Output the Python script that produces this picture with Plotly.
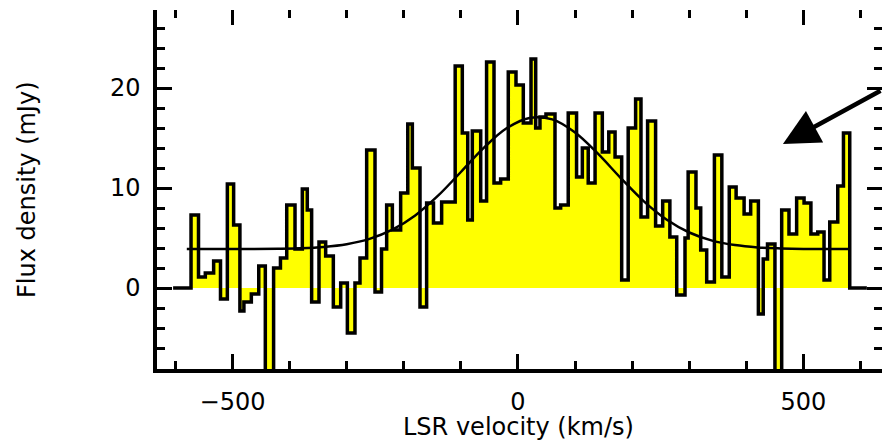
import plotly.graph_objects as go

# Channel left edges (LSR velocity, km/s) and flux density (mJy)
edge_v = [-604, -572.6, -559.5, -547.6, -533, -521, -509, -498, -487, -480, -467, -454,
          -442.5, -428, -416, -405, -390.5, -377.7, -369, -361.4, -348.5, -336.8, -323.4,
          -310.5, -298.8, -285.5, -276.7, -265, -250.4, -239, -230, -220, -205.5, -193,
          -185, -171.6, -160, -148, -133.7, -110, -97.5, -88, -80, -65.3, -55, -42, -30.4,
          -17, -3.5, 9.3, 22.8, 31, 38.5, 49, 64.8, 74.7, 88, 102.6, 112.7, 123, 135,
          147.7, 159, 170, 181.6, 193, 206, 215.4, 227, 241, 253.4, 266, 278, 292.5, 298,
          311.7, 320, 330.5, 344, 357, 370, 382, 396, 407.5, 421, 429.5, 437, 450, 461.8,
          474.6, 488, 501, 513, 525, 536, 546, 560, 570, 581]
flux = [0, 7.3, 1.1, 1.5, 2.7, -1.1, 10.4, 6.3, -2.3, -1.4, -0.6, 2.2,
        -12, 2.0, 3.0, 8.3, 3.9, 9.9, 7.8, -1.4, 4.6, 3.2, -1.9,
        0.5, -4.5, 0.5, 3.0, 13.8, -0.4, 3.9, 8.3, 5.8, 9.5, 16.4,
        12.0, -1.9, 8.5, 6.5, 8.6, 22.2, 15.5, 6.8, 15.7, 8.7, 22.6, 10.5, 10.9,
        21.6, 20.3, 16.5, 22.9, 16.0, 17.1, 17.4, 8.0, 8.3, 17.5, 11.1, 14.0, 10.5, 17.5,
        13.6, 15.6, 13.1, 0.8, 16.0, 18.9, 7.1, 16.7, 6.2, 8.7, 5.1, -0.7, 5.0, 11.6,
        8.0, 3.8, 0.6, 13.3, 1.1, 10.1, 9.0, 7.4, 8.7, -2.6, 2.9, 4.4, -12, 7.8,
        5.4, 9.0, 8.5, 5.4, 5.6, 0.8, 6.6, 10.2, 15.5, 0]
v_end = 611

# Gaussian + baseline fit curve
fit_v = [-580, -500, -420, -380, -340, -300, -260, -220, -180, -140, -100, -60, -20,
         20, 60, 100, 140, 180, 220, 260, 300, 340, 380, 420, 460, 500, 580]
fit_f = [3.90, 3.90, 3.93, 3.98, 4.11, 4.38, 4.91, 5.83, 7.26, 9.23, 11.60, 14.01, 15.97,
         17.01, 16.86, 15.55, 13.43, 10.99, 8.69, 6.85, 5.55, 4.74, 4.29, 4.06, 3.96, 3.91, 3.90]

x_ticks = [-500, 0, 500]
x_ticklabels = ["\u2212500", "0", "500"]
y_ticks = [0, 10, 20]

X_RANGE = [-632.2, 637.5]
Y_RANGE = [-8.1, 27.8]
FONT = "DejaVu Sans"

fig = go.Figure()
fig.add_trace(go.Scatter(
    x=edge_v + [v_end], y=flux + [flux[-1]],
    mode="lines", line=dict(shape="hv", color="black", width=3.5),
    fill="tozeroy", fillcolor="#FFFF00",
    showlegend=False, hoverinfo="skip"))
fig.add_trace(go.Scatter(
    x=fit_v, y=fit_f, mode="lines",
    line=dict(color="black", width=2.5, shape="spline"),
    showlegend=False, hoverinfo="skip"))
# dummy traces so the mirrored tick-only axes are drawn
fig.add_trace(go.Scatter(x=[None], y=[None], xaxis="x2", yaxis="y", showlegend=False, hoverinfo="skip"))
fig.add_trace(go.Scatter(x=[None], y=[None], xaxis="x", yaxis="y2", showlegend=False, hoverinfo="skip"))

tick_common = dict(ticks="inside", tickwidth=3, ticklen=15, tickcolor="black",
                   showgrid=False, zeroline=False)

fig.update_layout(
    width=882, height=441,
    margin=dict(l=157, r=0, t=10, b=72, pad=0),
    paper_bgcolor="white", plot_bgcolor="white",
    font=dict(family=FONT, size=24, color="black"),
    xaxis=dict(range=X_RANGE, tickvals=x_ticks, ticktext=x_ticklabels,
               showline=True, linewidth=3.5, linecolor="black",
               minor=dict(ticks="inside", dtick=100, tick0=0, ticklen=8, tickwidth=3, tickcolor="black"),
               ticklabelstandoff=8,
               **tick_common),
    yaxis=dict(range=Y_RANGE, tickvals=y_ticks,
               showline=True, linewidth=3.5, linecolor="black",
               minor=dict(ticks="inside", dtick=2, tick0=0, ticklen=8, tickwidth=3, tickcolor="black"),
               ticklabelstandoff=8,
               **tick_common),
    xaxis2=dict(range=X_RANGE, overlaying="x", side="top", anchor="y",
                tickvals=x_ticks, showticklabels=False, showline=False,
                minor=dict(ticks="inside", dtick=100, tick0=0, ticklen=8, tickwidth=3, tickcolor="black"),
                **tick_common),
    yaxis2=dict(range=Y_RANGE, overlaying="y", side="right", anchor="x",
                tickvals=y_ticks, showticklabels=False, showline=False,
                minor=dict(ticks="inside", dtick=2, tick0=0, ticklen=8, tickwidth=3, tickcolor="black"),
                **tick_common),
    annotations=[
        dict(text="LSR velocity (km/s)", xref="paper", yref="paper", x=0.4993, y=-0.1616,
             showarrow=False, xanchor="center", yanchor="middle", font=dict(size=24)),
        dict(text="Flux density (mJy)", xref="paper", yref="paper", x=-0.1793, y=0.4986,
             showarrow=False, xanchor="center", yanchor="middle", textangle=-90, font=dict(size=24)),
        dict(text="", x=464, y=14.4, xref="x", yref="y", showarrow=True,
             ax=115, ay=-54, axref="pixel", ayref="pixel",
             arrowhead=2, arrowsize=1.6, arrowwidth=4.5, arrowcolor="black", standoff=0),
    ],
)

fig.write_html("out.html")
